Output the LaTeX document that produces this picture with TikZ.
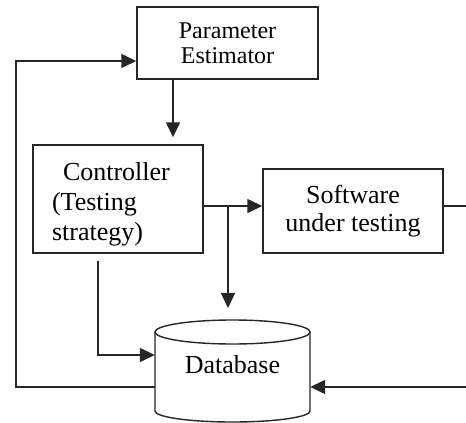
\documentclass[tikz,border=0pt]{standalone}
\usepackage{fontspec}
\setmainfont{Liberation Serif}
\usetikzlibrary{arrows.meta}
\begin{document}
\begin{tikzpicture}[x=1pt,y=-1pt,
  ln/.style={line width=1.4pt, draw=black!85},
  arr/.style={ln, -{Triangle[length=15pt,width=14pt]}},
  box/.style={ln, rectangle, inner sep=0pt},
]
\clip (0,0) rectangle (466,423);
\fill[white] (0,0) rectangle (466,423);
% boxes
\node[box, minimum width=181pt, minimum height=72pt, align=center,
      font=\fontsize{24}{25}\selectfont] (pe) at (227.5,43) {Parameter\\Estimator};
\node[box, minimum width=170pt, minimum height=108pt, align=left, text width=132pt,
      font=\fontsize{26}{30}\selectfont] (ctl) at (118,199)
      {\rule{0pt}{28pt}\hspace*{11pt}Controller\\(Testing\\strategy)};
\node[box, minimum width=180pt, minimum height=84pt, align=center,
      font=\fontsize{26}{28}\selectfont] (sut) at (353,211) {Software\\under testing};
% database
\draw[ln, fill=white] (155,332) -- (155,411)
   arc[start angle=180, end angle=360, x radius=77.5pt, y radius=11pt] -- (310,332);
\draw[ln] (232.5,332) ellipse[x radius=77.5pt, y radius=12pt];
\node[minimum width=155pt, inner sep=0pt, font=\fontsize{26}{28}\selectfont] (db) at (232.5,365) {Database};
% helper coordinates
\coordinate (j) at (228,206);
\coordinate (cx) at (173,0);
\coordinate (bx) at (98,355);
\coordinate (L) at (16,387);
\coordinate (T) at (16,61);
\coordinate (R1) at (480,206);
\coordinate (R2) at (480,387);
\coordinate (dbtop) at (228,320);
% connectors
\draw[arr, shorten >=7pt] (pe.south -| cx) -- (ctl.north -| cx);
\draw[arr] (ctl.east |- j) -- (sut.west |- j);
\draw[arr] (j) -- ([yshift=12pt]dbtop);
\draw[arr, shorten <=7pt] (ctl.south -| bx) -- (bx) -- (db.west |- bx);
\draw[arr] (db.west |- L) -- (L) -- (T) -- (pe.west |- T);
\draw[arr] (sut.east |- j) -- (R1) -- (R2) -- (db.east |- R2);
\end{tikzpicture}
\end{document}
